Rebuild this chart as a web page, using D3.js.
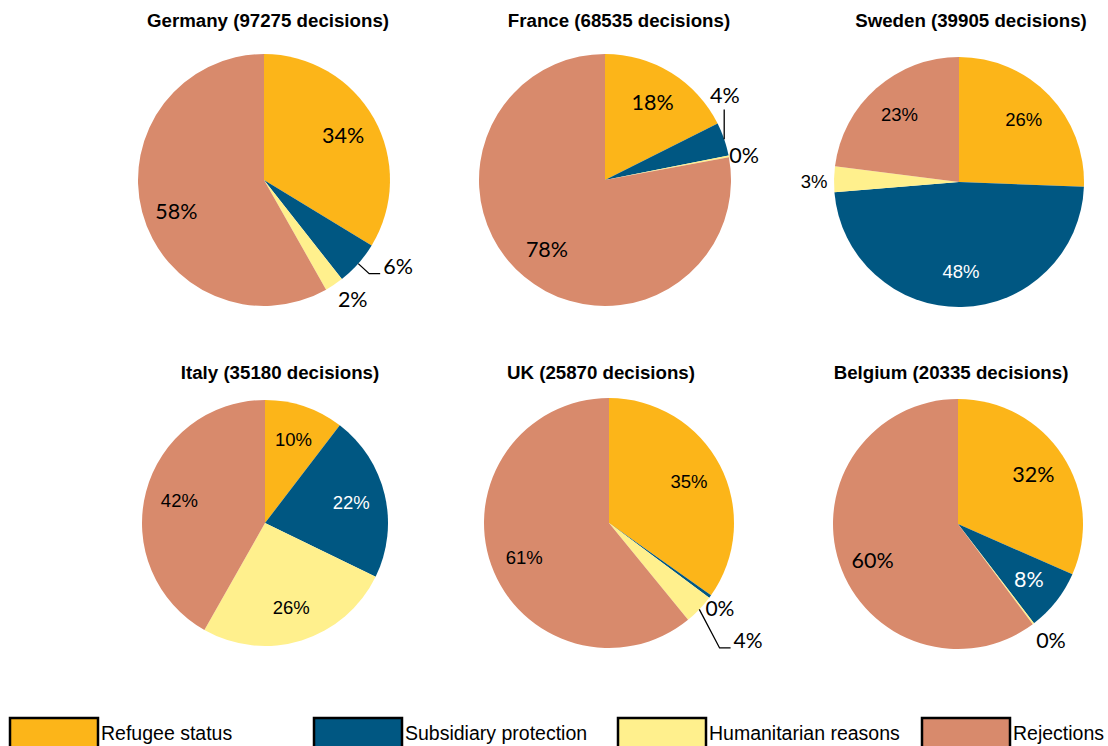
<!DOCTYPE html>
<html>
<head>
<meta charset="utf-8">
<script src="https://cdn.jsdelivr.net/npm/d3@7"></script>
<style>
  html, body { margin: 0; padding: 0; background: #fff; }
  svg { display: block; }
</style>
</head>
<body>
<svg id="chart" width="1108" height="746"></svg>
<script>
// ---- Data ----
const categories = ["Refugee status", "Subsidiary protection", "Humanitarian reasons", "Rejections"];
const countries = ["Germany", "France", "Sweden", "Italy", "UK", "Belgium"];
const decisions = [97275, 68535, 39905, 35180, 25870, 20335];
const refugee      = [33.7, 17.6, 25.6, 10.4, 34.8, 31.6];
const subsidiary   = [5.7,  4.3,  48.1, 21.8, 0.4,  8.0];
const humanitarian = [2.4,  0.2,  3.3,  26.0, 3.9,  0.2];
const rejections   = [58.2, 77.9, 23.0, 41.8, 60.9, 60.2];

// ---- Style / layout ----
const colors = ["#FCB519", "#005782", "#FFF08D", "#D88A6C"];
const labelColors = ["#000", "#fff", "#000", "#000"];
const layout = [
  { cx: 264, cy: 180, r: 126, tx: 268, ty: 27,  font: "Lato", fs: 21.5 },
  { cx: 605, cy: 180, r: 126, tx: 619, ty: 27,  font: "Lato", fs: 21.5 },
  { cx: 959, cy: 182, r: 125, tx: 971, ty: 27,  font: "Liberation Sans", fs: 18.5 },
  { cx: 265, cy: 523, r: 123, tx: 280, ty: 379, font: "Liberation Sans", fs: 18.5 },
  { cx: 609, cy: 523, r: 125, tx: 601, ty: 379, font: "Liberation Sans", fs: 18.5 },
  { cx: 958, cy: 524, r: 125, tx: 951, ty: 379, font: "Lato", fs: 21.5 }
];
// outside labels: chart, series, angle (deg clockwise from top), radius factor, leader type, font override
const outside = [
  { c: 0, s: 1, a: 122.9, k: 1.267, leader: "elbow" },
  { c: 0, s: 2, a: 143.5, k: 1.184, leader: null },
  { c: 1, s: 1, a: 54.8,  k: 1.165, leader: "vertical" },
  { c: 1, s: 2, a: 80.1,  k: 1.12,  leader: null },
  { c: 2, s: 2, a: 270,   k: 1.16,  leader: null },
  { c: 4, s: 1, a: 127.8, k: 1.123, leader: null, font: "Lato", fs: 21 },
  { c: 4, s: 2, a: 130.3, k: 1.459, leader: "elbow", font: "Lato", fs: 21 },
  { c: 5, s: 2, a: 141.3, k: 1.19,  leader: null }
];
// small vertical nudges for big-slice inside labels (chart, series, dy px)
const nudges = [
  { c: 0, s: 3, dy: 8 },
  { c: 5, s: 3, dy: 8 },
  { c: 4, s: 3, dy: 4 }
];

const series = [refugee, subsidiary, humanitarian, rejections];
const svg = d3.select("#chart");

const pie = d3.pie().sort(null).value(d => d.v);

countries.forEach((country, ci) => {
  const L = layout[ci];
  const data = categories.map((cat, si) => ({ cat, si, v: series[si][ci] }));
  const arcs = pie(data);
  const g = svg.append("g").attr("transform", `translate(${L.cx},${L.cy})`);
  const arc = d3.arc().innerRadius(0).outerRadius(L.r);
  const labelArc = d3.arc().innerRadius(L.r * 0.72).outerRadius(L.r * 0.72);

  g.selectAll("path.slice").data(arcs).join("path")
    .attr("class", "slice")
    .attr("d", arc)
    .attr("fill", d => colors[d.data.si]);

  // title
  svg.append("text")
    .attr("x", L.tx).attr("y", L.ty)
    .attr("text-anchor", "middle")
    .attr("font-family", "Liberation Sans, Arial, sans-serif")
    .attr("font-weight", "bold")
    .attr("font-size", 18.7)
    .attr("fill", "#000")
    .text(`${country} (${decisions[ci]} decisions)`);

  arcs.forEach(d => {
    const txt = Math.round(d.data.v) + "%";
    const o = outside.find(e => e.c === ci && e.s === d.data.si);
    if (!o) {
      const [x, y] = labelArc.centroid(d);
      const n = nudges.find(e => e.c === ci && e.s === d.data.si);
      g.append("text")
        .attr("x", x).attr("y", y + (n ? n.dy : 0)).attr("dy", "0.35em")
        .attr("text-anchor", "middle")
        .attr("font-family", L.font + ", sans-serif")
        .attr("font-size", L.fs)
        .attr("fill", labelColors[d.data.si])
        .text(txt);
    } else {
      const ang = o.a * Math.PI / 180;
      const lx = Math.sin(ang) * L.r * o.k;
      const ly = -Math.cos(ang) * L.r * o.k;
      const t = g.append("text")
        .attr("x", lx).attr("y", ly).attr("dy", "0.35em")
        .attr("text-anchor", "middle")
        .attr("font-family", (o.font || L.font) + ", sans-serif")
        .attr("font-size", o.fs || L.fs)
        .attr("fill", "#000")
        .text(txt);
      if (o.leader) {
        const mid = (d.startAngle + d.endAngle) / 2;
        const ex = Math.sin(mid) * L.r, ey = -Math.cos(mid) * L.r;
        const bb = t.node().getBBox();
        let pts;
        if (o.leader === "elbow") {
          const endX = bb.x - 3, endY = ly + 7;
          pts = [[ex, ey], [endX - 11, endY], [endX, endY]];
        } else {
          pts = [[ex, ey], [ex, ly + 14]];
        }
        g.append("path")
          .attr("d", d3.line()(pts))
          .attr("fill", "none")
          .attr("stroke", "#000")
          .attr("stroke-width", 1.3);
      }
    }
  });
});

// ---- Legend ----
const legendX = d3.scalePoint().domain(categories).range([10, 922]);
const lg = svg.append("g");
categories.forEach((cat, i) => {
  const x = legendX(cat);
  lg.append("rect")
    .attr("x", x).attr("y", 718)
    .attr("width", 88).attr("height", 32)
    .attr("fill", colors[i])
    .attr("stroke", "#000")
    .attr("stroke-width", 2.5);
  lg.append("text")
    .attr("x", x + 91).attr("y", 740)
    .attr("font-family", "Liberation Sans, Arial, sans-serif")
    .attr("font-size", 19.5)
    .attr("fill", "#000")
    .text(cat);
});
</script>
</body>
</html>
